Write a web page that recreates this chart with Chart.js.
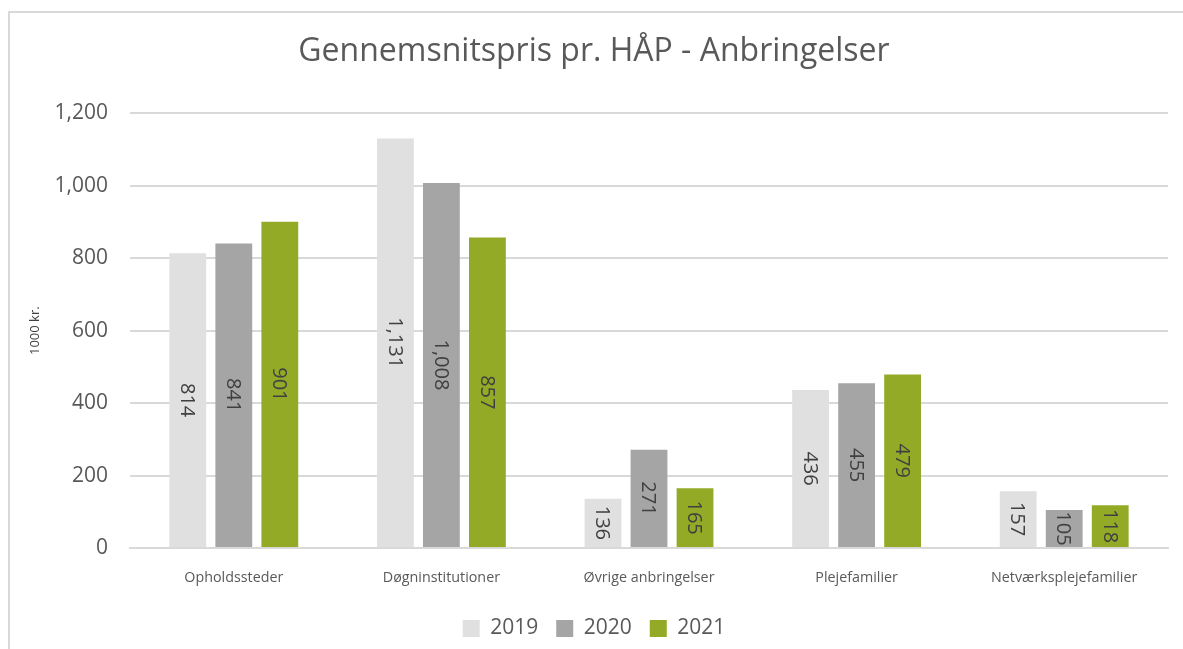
<!DOCTYPE html>
<html>
<head>
<meta charset="utf-8">
<script src="https://cdn.jsdelivr.net/npm/chart.js@4.4.1/dist/chart.umd.min.js"></script>
<style>
  html, body { margin: 0; padding: 0; background: #ffffff; }
  #wrap { position: relative; width: 1183px; height: 649px; overflow: hidden; }
  #frame { position: absolute; left: 8px; top: 11px; width: 1200px; height: 700px;
           border-left: 2px solid #d9d9d9; border-top: 2px solid #d9d9d9; box-sizing: border-box; }
  #c { position: absolute; left: 0; top: 0; }
</style>
</head>
<body>
<div id="wrap">
  <div id="frame"></div>
  <canvas id="c" width="1183" height="649"></canvas>
</div>
<script>
const categories = ["Opholdssteder", "Døgninstitutioner", "Øvrige anbringelser", "Plejefamilier", "Netværksplejefamilier"];
const seriesNames = ["2019", "2020", "2021"];
const values2019 = [814, 1131, 136, 436, 157];
const values2020 = [841, 1008, 271, 455, 105];
const values2021 = [901, 857, 165, 479, 118];
const yTicks = [0, 200, 400, 600, 800, 1000, 1200];
const chartTitle = "Gennemsnitspris pr. HÅP - Anbringelser";
const yAxisTitle = "1000 kr.";

const colors = ["#e0e0e0", "#a5a5a5", "#93aa26"];
const FONT = "'Open Sans', sans-serif";
const fmt = v => v.toLocaleString("en-US");

const barLabels = {
  id: "barLabels",
  afterDatasetsDraw(chart) {
    const ctx = chart.ctx;
    ctx.save();
    ctx.font = "20px " + FONT;
    ctx.fillStyle = "#404040";
    ctx.textAlign = "center";
    ctx.textBaseline = "middle";
    chart.data.datasets.forEach((ds, i) => {
      const meta = chart.getDatasetMeta(i);
      meta.data.forEach((el, j) => {
        const cy = (el.y + el.base) / 2;
        ctx.save();
        ctx.translate(el.x, cy);
        ctx.rotate(Math.PI / 2);
        ctx.fillText(fmt(ds.data[j]), 0, 1);
        ctx.restore();
      });
    });
    ctx.restore();
  }
};

new Chart(document.getElementById("c"), {
  type: "bar",
  data: {
    labels: categories,
    datasets: [
      { label: seriesNames[0], data: values2019, backgroundColor: colors[0] },
      { label: seriesNames[1], data: values2020, backgroundColor: colors[1] },
      { label: seriesNames[2], data: values2021, backgroundColor: colors[2] }
    ]
  },
  options: {
    responsive: false,
    animation: false,
    events: [],
    layout: { padding: { left: 20, right: 15, top: 0, bottom: 0 } },
    datasets: { bar: { categoryPercentage: 0.665, barPercentage: 0.8 } },
    plugins: {
      title: {
        display: true,
        text: chartTitle,
        color: "#595959",
        font: { family: FONT, size: 32, weight: "normal" },
        padding: { top: 33, bottom: 42 }
      },
      legend: {
        position: "bottom",
        labels: {
          color: "#595959",
          font: { family: FONT, size: 21 },
          boxWidth: 17,
          boxHeight: 17,
          padding: 18
        }
      },
      tooltip: { enabled: false }
    },
    scales: {
      x: {
        grid: { display: false, drawTicks: false },
        border: { display: true, color: "#d9d9d9", width: 2 },
        ticks: { color: "#595959", font: { family: FONT, size: 14.3 }, padding: 21 },
        afterFit(scale) { scale.height = 52; }
      },
      y: {
        min: 0,
        max: 1200,
        afterBuildTicks(scale) { scale.ticks = yTicks.map(v => ({ value: v })); },
        grid: { color: "#d9d9d9", lineWidth: 2, drawTicks: false },
        border: { display: false },
        ticks: { color: "#595959", font: { family: FONT, size: 21 }, padding: 22, callback: v => fmt(v) },
        title: { display: true, text: yAxisTitle, color: "#404040", font: { family: FONT, size: 13 }, padding: { top: 7, bottom: 0 } },
        afterFit(scale) { scale.width = 110; }
      }
    }
  },
  plugins: [barLabels]
});
</script>
</body>
</html>
